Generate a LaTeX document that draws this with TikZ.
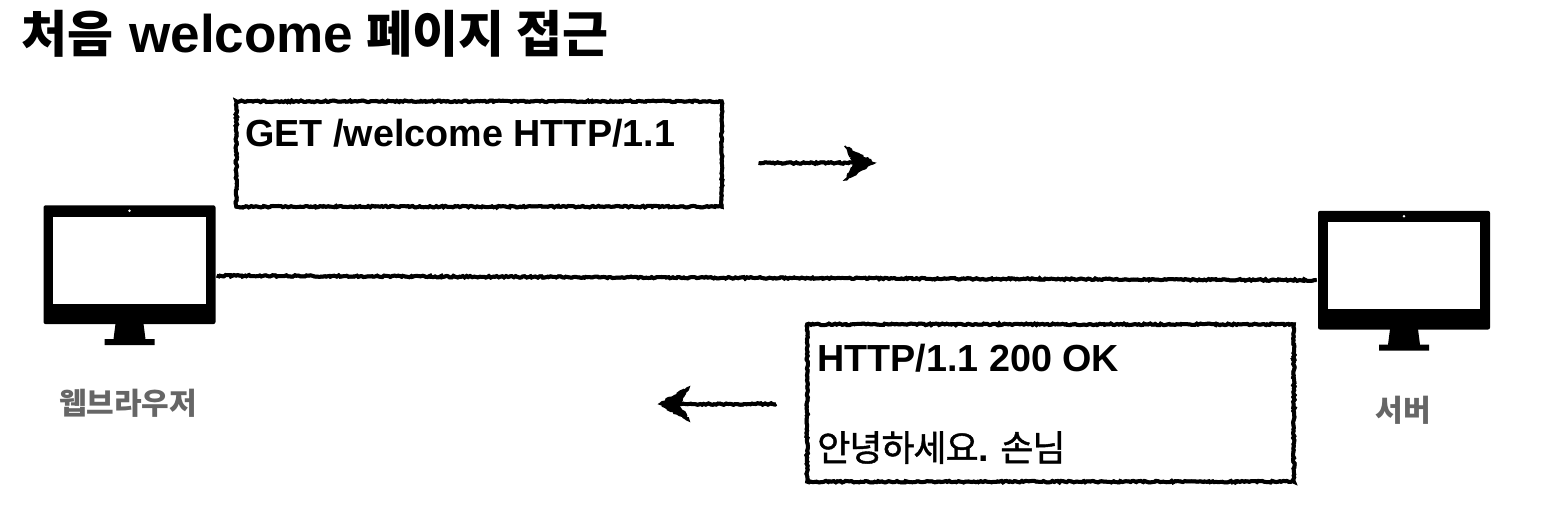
\documentclass[tikz,border=0pt]{standalone}
\usepackage{fontspec}
\setmainfont{Liberation Sans}
\newfontfamily\cjk{Noto Sans CJK KR}
\newfontfamily\cjkmed[FakeBold=1.2,LetterSpace=-3]{Noto Sans CJK KR}
\usetikzlibrary{decorations.pathmorphing,calc}
\pgfmathsetseed{1234}
\tikzset{
  roughline/.style={draw=black,line width=3pt,decorate,
    decoration={random steps,segment length=1.4pt,amplitude=0.6pt},
    preaction={draw=black,line width=2.6pt,decorate,decoration={random steps,segment length=2.4pt,amplitude=0.8pt}}},
  msgbox/.style={roughline,rectangle,inner sep=0pt},
  msgtext/.style={anchor=base west,inner sep=0pt,font=\bfseries\fontsize{28.3pt}{32pt}\selectfont},
  titletext/.style={anchor=base west,inner sep=0pt,font=\bfseries\fontsize{39.8pt}{44pt}\selectfont},
  monlabel/.style={inner sep=0pt,text=labelgray,font=\cjk\bfseries\fontsize{22.5pt}{26pt}\selectfont},
  monbody/.style={fill=black,rectangle,rounded corners=1.5pt,inner sep=0pt,minimum width=129pt,minimum height=89pt},
  monscreen/.style={fill=white,rectangle,inner sep=0pt,minimum width=114.5pt,minimum height=65.25pt},
  mondot/.style={fill=white,circle,inner sep=0pt,minimum size=2pt},
  headfill/.style={draw=black,fill=black,line width=1.1pt,decorate,decoration={random steps,segment length=1.6pt,amplitude=0.8pt}},
}
\definecolor{labelgray}{HTML}{666666}
\newcommand{\drawmonitor}[3]{%
  \node[monbody] (#1) at (#2,#3) {};
  \node[monscreen] (#1screen) at ($(#1.center)+(0,-4.5)$) {};
  \node[mondot] (#1dot) at ($(#1.center)+(0,-54)$) {};
  \fill[black] ($(#1.center)+(-14,59)$) -- ($(#1.center)+(14,59)$) -- ($(#1.center)+(16,74.5)$) -- ($(#1.center)+(25,74.5)$) -- ($(#1.center)+(25,80.5)$) -- ($(#1.center)+(-25,80.5)$) -- ($(#1.center)+(-25,74.5)$) -- ($(#1.center)+(-16,74.5)$) -- cycle;
}
\begin{document}
\begin{tikzpicture}[x=0.75pt,y=-0.75pt]
\useasboundingbox (0,0) rectangle (1556,520);
\fill[white] (0,0) rectangle (1556,520);
\node[titletext] (title) at (21,53) {{\cjk\fontsize{37.5pt}{44pt}\selectfont 처음}\hspace{1pt} welcome\hspace{-1pt} {\cjk\fontsize{37.5pt}{44pt}\selectfont 페이지 접근}};
\drawmonitor{browser}{129.5}{264.7}
\drawmonitor{server}{1404}{270.2}
\node[monlabel] (browserlabel) at (128,403) {웹브라우저};
\node[monlabel] (serverlabel) at (1403,410) {서버};
\node[msgbox,minimum width=364pt,minimum height=79pt] (reqbox) at (479,154) {};
\node[msgtext] (reqtext) at (245,147) {GET /welcome HTTP/1.1};
\node[msgbox,minimum width=365pt,minimum height=118pt] (resbox) at (1050.5,403) {};
\node[msgtext] (restext) at (817,371) {HTTP/1.1 200 OK};
\node[msgtext] (resbody) at (817,461) {{\cjkmed\mdseries\fontsize{27pt}{32pt}\selectfont 안녕하세요}.\hspace{-2pt} {\cjkmed\mdseries\fontsize{27pt}{32pt}\selectfont 손님}};
\coordinate (linel) at ($(browser.east)+(1,11)$);
\coordinate (liner) at ($(server.west)+(-1,10)$);
\draw[roughline] (linel) -- (liner);
\coordinate (reqa) at ($(reqbox.east)+(35,9)$);
\coordinate (reqb) at ($(reqbox.east)+(146,9)$);
\draw[roughline] (reqa) -- (reqb);
\path[headfill] (reqb) ++(5,0) -- ++(-30,-17) -- ++(10,17) -- ++(-10,17) -- cycle;
\coordinate (resa) at ($(resbox.west)+(-29,1)$);
\coordinate (resb) at ($(resbox.west)+(-142,1)$);
\draw[roughline] (resa) -- (resb);
\path[headfill] (resb) ++(-4,0) -- ++(30,-17) -- ++(-10,17) -- ++(10,17) -- cycle;
\end{tikzpicture}
\end{document}
